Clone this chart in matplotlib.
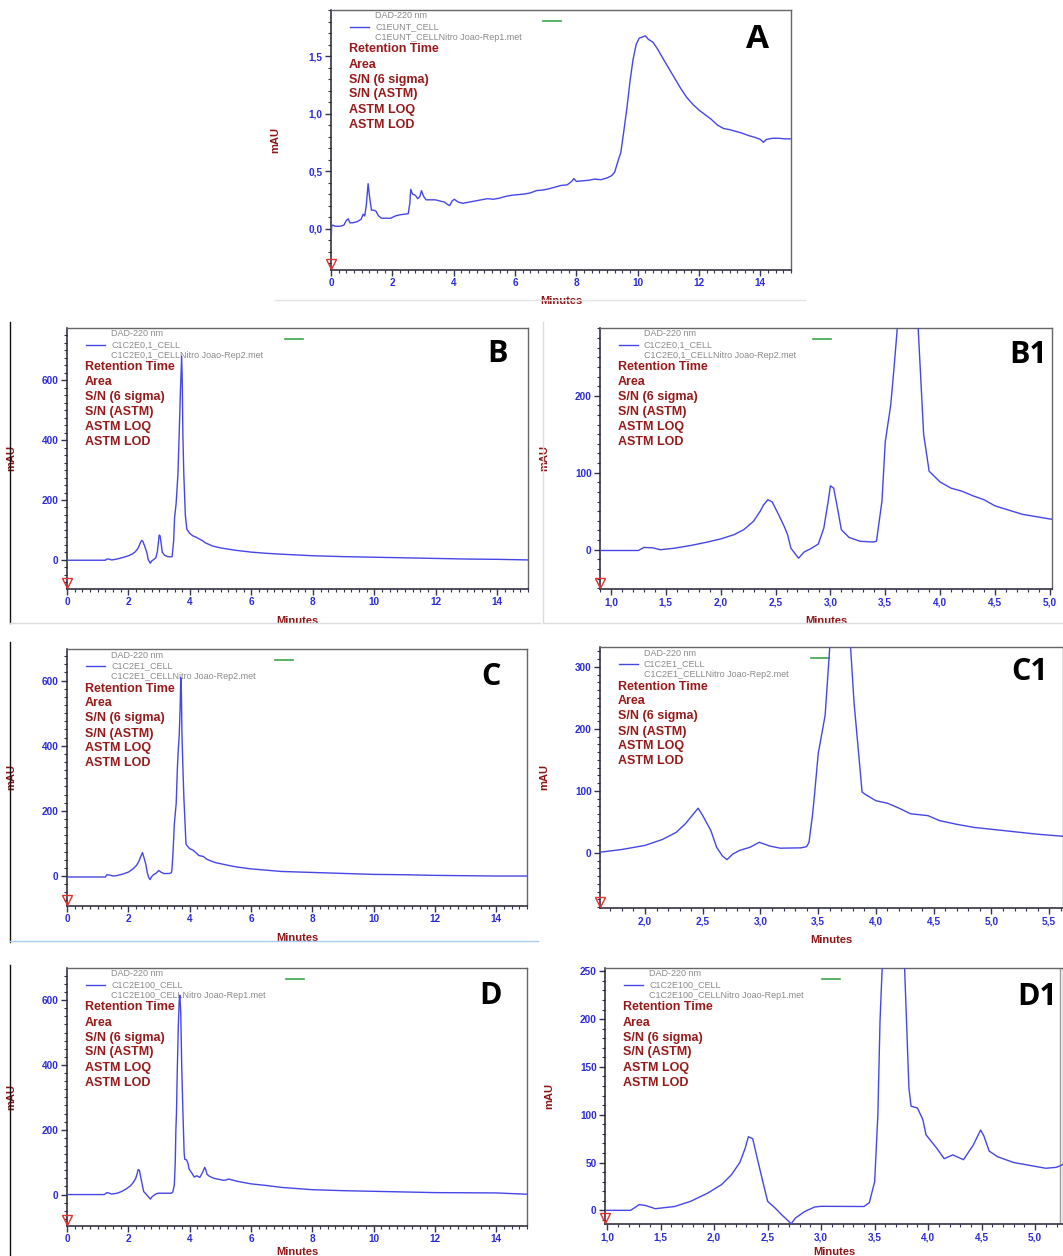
import matplotlib
matplotlib.use("Agg")
import matplotlib.pyplot as plt
from matplotlib.ticker import MultipleLocator, FuncFormatter
from matplotlib.lines import Line2D

W, H = 1063, 1256

# traces (minutes, mAU)
a_time = [0.0, 0.02, 0.05, 0.15, 0.3, 0.42, 0.5, 0.56, 0.62, 0.7,
          0.85, 0.98, 1.05, 1.1, 1.15, 1.21, 1.26, 1.32, 1.4, 1.47,
          1.55, 1.65, 1.8, 1.95, 2.1, 2.25, 2.4, 2.52, 2.57, 2.6,
          2.66, 2.75, 2.83, 2.9, 2.95, 3.02, 3.1, 3.25, 3.4, 3.55,
          3.7, 3.8, 3.87, 3.95, 4.02, 4.15, 4.3, 4.5, 4.7, 4.9,
          5.1, 5.3, 5.5, 5.7, 5.9, 6.1, 6.3, 6.5, 6.7, 6.9,
          7.1, 7.3, 7.5, 7.7, 7.85, 7.92, 8.0, 8.2, 8.4, 8.6,
          8.8, 9.0, 9.15, 9.25, 9.35, 9.45, 9.55, 9.65, 9.75, 9.85,
          9.95, 10.05, 10.15, 10.25, 10.35, 10.5, 10.65, 10.8, 11.0, 11.2,
          11.4, 11.6, 11.8, 12.0, 12.2, 12.4, 12.6, 12.8, 13.0, 13.2,
          13.4, 13.6, 13.8, 14.0, 14.1, 14.2, 14.4, 14.6, 14.8, 15.0]
a_mau = [-0.16, 0.02, 0.03, 0.02, 0.02, 0.03, 0.07, 0.085, 0.05, 0.05,
         0.06, 0.08, 0.125, 0.11, 0.2, 0.39, 0.27, 0.16, 0.16, 0.15,
         0.11, 0.09, 0.09, 0.09, 0.11, 0.12, 0.125, 0.13, 0.22, 0.34,
         0.3, 0.29, 0.26, 0.28, 0.33, 0.28, 0.25, 0.25, 0.25, 0.24,
         0.23, 0.21, 0.2, 0.24, 0.255, 0.23, 0.22, 0.23, 0.24, 0.25,
         0.26, 0.255, 0.265, 0.28, 0.29, 0.295, 0.3, 0.31, 0.33, 0.335,
         0.345, 0.36, 0.375, 0.38, 0.41, 0.435, 0.41, 0.415, 0.42, 0.43,
         0.425, 0.44, 0.46, 0.49, 0.58, 0.66, 0.85, 1.05, 1.28, 1.47,
         1.6, 1.655, 1.665, 1.675, 1.645, 1.62, 1.56, 1.49, 1.4, 1.31,
         1.22, 1.14, 1.08, 1.03, 0.99, 0.95, 0.9, 0.87, 0.86, 0.845,
         0.83, 0.81, 0.795, 0.775, 0.75, 0.775, 0.785, 0.785, 0.78, 0.78]

b_time = [0.0, 1.0, 1.25, 1.3, 1.38, 1.45, 1.58, 1.73, 1.88, 2.0,
          2.12, 2.21, 2.3, 2.36, 2.39, 2.43, 2.47, 2.53, 2.58, 2.61,
          2.64, 2.71, 2.76, 2.82, 2.89, 2.94, 2.98, 3.0, 3.03, 3.07,
          3.1, 3.17, 3.27, 3.39, 3.42, 3.47, 3.5, 3.55, 3.58, 3.61,
          3.65, 3.69, 3.73, 3.75, 3.77, 3.8, 3.85, 3.9, 4.0, 4.1,
          4.2, 4.3, 4.4, 4.5, 4.75, 5.0, 5.5, 6.0, 6.5, 7.0,
          8.0, 9.0, 10.0, 11.0, 12.0, 13.0, 14.0, 15.0]
b_mau = [-1, -1, -1, 3, 2.5, 0, 2, 5.6, 10, 14,
         19.5, 26, 37, 50, 58, 65, 62, 45, 30, 19.5,
         2, -11, -3, 1.3, 7.4, 28, 63, 83, 80, 50,
         26, 16, 11, 10, 11, 63, 140, 188, 236, 288,
         420, 560, 680, 600, 420, 288, 150, 102, 88, 80,
         76, 70, 65, 57, 46, 40, 32, 26, 22, 19,
         14, 11, 9, 7, 5, 3, 2, 0]

c_time = [0.0, 1.25, 1.3, 1.38, 1.5, 1.61, 1.8, 2.0, 2.15, 2.27,
          2.35, 2.46, 2.5, 2.57, 2.62, 2.67, 2.71, 2.76, 2.82, 2.91,
          2.99, 3.08, 3.17, 3.35, 3.4, 3.42, 3.45, 3.47, 3.5, 3.56,
          3.6, 3.63, 3.66, 3.69, 3.71, 3.73, 3.75, 3.78, 3.81, 3.88,
          3.91, 4.0, 4.1, 4.2, 4.3, 4.45, 4.55, 4.7, 4.85, 5.0,
          5.2, 5.4, 5.6, 6.0, 6.5, 7.0, 8.0, 9.0, 10.0, 11.0,
          12.0, 13.0, 14.0, 15.0]
c_mau = [-3, -3, 4, 3, 0, 1, 5.4, 12, 21.5, 33,
         47, 72, 60, 36, 9, -5, -11, -2, 4, 9,
         17, 11, 7.5, 8, 10, 17, 60, 98, 160, 222,
         332, 390, 433, 520, 609, 560, 430, 332, 243, 98,
         94, 84, 80, 72, 63, 60, 52, 46, 41, 38,
         34, 30, 27, 22, 18, 14, 11, 8, 5, 4,
         2, 1, 0, 0]

d_time = [0.0, 1.22, 1.3, 1.36, 1.45, 1.63, 1.78, 1.94, 2.07, 2.16,
          2.24, 2.29, 2.32, 2.36, 2.41, 2.47, 2.5, 2.57, 2.63, 2.72,
          2.76, 2.85, 2.94, 3.0, 3.4, 3.45, 3.5, 3.53, 3.55, 3.57,
          3.6, 3.63, 3.66, 3.68, 3.71, 3.74, 3.78, 3.82, 3.84, 3.9,
          3.95, 3.98, 4.08, 4.15, 4.23, 4.33, 4.42, 4.49, 4.52, 4.57,
          4.65, 4.8, 5.0, 5.1, 5.2, 5.26, 5.3, 5.6, 6.0, 6.5,
          7.0, 8.0, 9.0, 10.0, 12.0, 14.0, 14.5, 15.0]
d_mau = [0, 0, 6, 5, 1.7, 4, 9.4, 18, 27, 37,
         50, 65, 77, 75, 51, 23, 9.4, 2.4, -4.5, -14,
         -8, -1, 3.5, 4.2, 4, 8, 30, 100, 198, 253,
         400, 520, 600, 615, 560, 400, 253, 128, 109, 107,
         95, 79, 65, 54, 58, 53, 68, 84, 78, 62,
         56, 50, 46, 44, 45, 48, 47, 40, 33, 28,
         22, 15, 12, 10, 6, 5, 3, 1]

sample_names = {
    "A": ("C1EUNT_CELL", "C1EUNT_CELLNitro Joao-Rep1.met"),
    "B": ("C1C2E0,1_CELL", "C1C2E0,1_CELLNitro Joao-Rep2.met"),
    "C": ("C1C2E1_CELL", "C1C2E1_CELLNitro Joao-Rep2.met"),
    "D": ("C1C2E100_CELL", "C1C2E100_CELLNitro Joao-Rep1.met"),
}
report_items = ["Retention Time", "Area", "S/N (6 sigma)", "S/N (ASTM)",
                "ASTM LOQ", "ASTM LOD"]

TRACE = "#4646e6"
TICKC = "#2b2bd9"
LABELC = "#8e1515"
REDTXT = "#961a1a"
GRAYTXT = "#8a8a8a"

# panel layout: pixel box (left, top, right, bottom), axis ranges, ticks
panels = [
    dict(letter="A", sample="A", t=a_time, v=a_mau, box=(331, 10, 791, 270),
         xlim=(0, 15), ylim=(-0.36, 1.9), xt=(2, 0.25), yt=(0.5, 0.1),
         xdec=0, ydec=1, green=212, lsize=24, lpos=(34, 30), xlab=26),
    dict(letter="B", sample="B", t=b_time, v=b_mau, box=(67, 328, 528, 589),
         xlim=(0, 15), ylim=(-97, 774), xt=(2, 0.25), yt=(200, 25),
         xdec=0, ydec=0, green=218, lsize=22, lpos=(31, 26), xlab=27),
    dict(letter="B1", sample="B", t=b_time, v=b_mau, box=(600, 328, 1052, 589),
         xlim=(0.9, 5.02), ylim=(-51, 288), xt=(0.5, 0.1), yt=(100, 12.5),
         xdec=1, ydec=0, green=213, lsize=22, lpos=(24, 27), xlab=27),
    dict(letter="C", sample="C", t=c_time, v=c_mau, box=(67, 649, 527, 906),
         xlim=(0, 15), ylim=(-92, 697), xt=(2, 0.25), yt=(200, 25),
         xdec=0, ydec=0, green=208, lsize=22, lpos=(36, 28), xlab=27),
    dict(letter="C1", sample="C", t=c_time, v=c_mau, box=(600, 647, 1063, 908),
         xlim=(1.61, 5.62), ylim=(-89, 332), xt=(0.5, 0.1), yt=(100, 12.5),
         xdec=1, ydec=0, green=211, lsize=22, lpos=(33, 25), xlab=27),
    dict(letter="D", sample="D", t=d_time, v=d_mau, box=(67, 968, 527, 1226),
         xlim=(0, 15), ylim=(-97, 699), xt=(2, 0.25), yt=(200, 25),
         xdec=0, ydec=0, green=219, lsize=22, lpos=(36, 28), xlab=21),
    dict(letter="D1", sample="D", t=d_time, v=d_mau, box=(605, 968, 1063, 1224),
         xlim=(0.98, 5.26), ylim=(-14.3, 253.5), xt=(0.5, 0.1), yt=(50, 10),
         xdec=1, ydec=0, green=217, lsize=22, lpos=(26, 29), xlab=23),
]


def comma_fmt(dec):
    return FuncFormatter(lambda val, pos: f"{val:.{dec}f}".replace(".", ","))


fig = plt.figure(figsize=(W / 100, H / 100), dpi=100)
fig.patch.set_facecolor("white")

for p in panels:
    l, t, r, b = p["box"]
    wpx, hpx = r - l, b - t
    ax = fig.add_axes([l / W, 1 - b / H, wpx / W, hpx / H])
    ax.plot(p["t"], p["v"], color=TRACE, lw=1.0, zorder=3)
    ax.set_xlim(*p["xlim"])
    ax.set_ylim(*p["ylim"])

    ax.xaxis.set_major_locator(MultipleLocator(p["xt"][0]))
    ax.xaxis.set_minor_locator(MultipleLocator(p["xt"][1]))
    ax.yaxis.set_major_locator(MultipleLocator(p["yt"][0]))
    ax.yaxis.set_minor_locator(MultipleLocator(p["yt"][1]))
    ax.xaxis.set_major_formatter(comma_fmt(p["xdec"]))
    ax.yaxis.set_major_formatter(comma_fmt(p["ydec"]))
    ax.tick_params(which="major", direction="out", length=4.5, width=1.0,
                   color="#333355", pad=1.5, labelsize=7.2, labelcolor=TICKC)
    ax.tick_params(which="minor", direction="out", length=2.2, width=0.8,
                   color="#333355")
    for lab in ax.get_xticklabels() + ax.get_yticklabels():
        lab.set_fontfamily("Liberation Sans")
        lab.set_fontweight("bold")
    for side in ("top", "right"):
        ax.spines[side].set_color("#666666")
        ax.spines[side].set_linewidth(1.0)
    for side in ("left", "bottom"):
        ax.spines[side].set_color("#222233")
        ax.spines[side].set_linewidth(1.1)

    lab_font = dict(fontfamily="Liberation Sans", fontweight="bold",
                    fontsize=8, color=LABELC)
    ax.set_xlabel("Minutes", **lab_font)
    ax.set_ylabel("mAU", **lab_font)
    ax.xaxis.set_label_coords(0.5, -p["xlab"] / hpx)
    ax.yaxis.set_label_coords(-51 / wpx, 0.5)

    # detector legend block
    name1, name2 = sample_names[p["sample"]]
    gray = dict(transform=ax.transAxes, fontfamily="Liberation Sans",
                fontsize=6.5, color=GRAYTXT, va="center", zorder=1)
    ax.text(44 / wpx, 1 - 6 / hpx, "DAD-220 nm", **gray)
    ax.text(44 / wpx, 1 - 17 / hpx, name1, **gray)
    ax.text(44 / wpx, 1 - 27.5 / hpx, name2, **gray)
    ax.plot([19 / wpx, 38 / wpx], [1 - 17 / hpx] * 2, transform=ax.transAxes,
            color=TRACE, lw=1.0, zorder=2)
    ax.plot([p["green"] / wpx, (p["green"] + 18) / wpx], [1 - 11 / hpx] * 2,
            transform=ax.transAxes, color="#3aa64a", lw=1.2, zorder=2)

    for i, item in enumerate(report_items):
        ax.text(18 / wpx, 1 - (39.5 + 15 * i) / hpx, item,
                transform=ax.transAxes, fontfamily="Liberation Sans",
                fontweight="bold", fontsize=9, color=REDTXT, va="center",
                zorder=1)

    # injection marker
    ax.plot([0], [6 / hpx], transform=ax.transAxes, marker="v", ms=7.5,
            mfc="none", mec="#e03030", mew=1.0, clip_on=False, zorder=4)

    ax.text(1 - p["lpos"][0] / wpx, 1 - p["lpos"][1] / hpx, p["letter"],
            transform=ax.transAxes, fontfamily="Open Sans", fontweight="bold",
            fontsize=p["lsize"], color="black", ha="center", va="center",
            zorder=5)

    if p["letter"] == "D1":
        ax.axvline(5.235, color="#999999", lw=1.0, zorder=2)

# borders left over from the pasted screenshots
borders = [
    ((275, 805), (300, 300), "#e4e4e4"),
    ((10, 10), (322, 623), "#111111"),
    ((10, 10), (642, 942), "#111111"),
    ((10, 10), (965, 1256), "#111111"),
    ((10, 540), (623, 623), "#dddddd"),
    ((543, 543), (322, 623), "#dddddd"),
    ((543, 1063), (623, 623), "#dddddd"),
    ((10, 538), (941, 941), "#a9cdf0"),
]
for xs, ys, col in borders:
    fig.add_artist(Line2D([x / W for x in xs], [1 - y / H for y in ys],
                          transform=fig.transFigure, color=col, lw=1.0))

fig.savefig("out.png", dpi=100)
